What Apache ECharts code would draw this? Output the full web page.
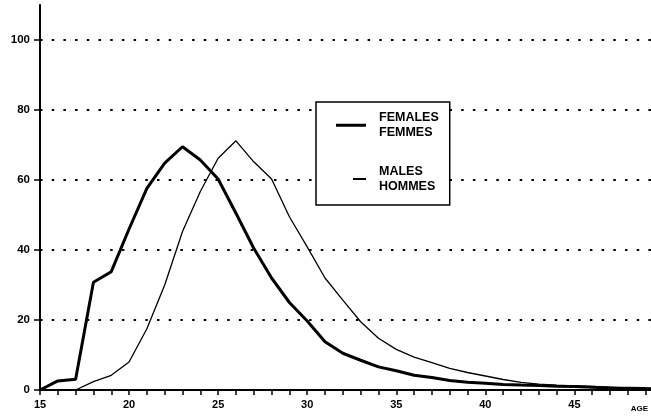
<!DOCTYPE html>
<html>
<head>
<meta charset="utf-8">
<script src="https://cdn.jsdelivr.net/npm/echarts@6/dist/echarts.min.js"></script>
<style>
html,body{margin:0;padding:0;background:#fff;}
#c{width:651px;height:420px;}
</style>
</head>
<body>
<div id="c"></div>
<script>
var ages = [15,16,17,18,19,20,21,22,23,24,25,26,27,28,29,30,31,32,33,34,35,36,37,38,39,40,41,42,43,44,45,46,47,48,49,50];
var females = [0,2.6,3.1,30.8,33.8,46,57.6,64.8,69.5,65.7,60.3,50.5,40.5,32,25,19.7,13.8,10.5,8.5,6.6,5.5,4.2,3.6,2.7,2.2,1.9,1.6,1.4,1.3,1.1,1.0,0.8,0.6,0.5,0.4,0.35];
var males = [null,null,0,2.4,4.2,8,17.5,30,45.3,56.7,66.2,71.2,65.2,60.3,49.5,40.9,32,25.7,19.5,14.8,11.6,9.4,7.8,6.2,5.0,4.0,3.0,2.2,1.7,1.4,1.2,1.0,0.8,0.6,0.5,0.45];
var yTicks = [0,20,40,60,80,100];
var gridValues = [20,40,60,80,100];
var femaleName = 'FEMALES\nFEMMES';
var maleName = 'MALES\nHOMMES';

function pairs(vals){
  return ages.map(function(a,i){ return [a, vals[i]]; });
}

var chart = echarts.init(document.getElementById('c'), null, {renderer:'canvas'});
var fontFam = '"Liberation Sans", Arial, sans-serif';
chart.setOption({
  animation:false,
  backgroundColor:'#fff',
  grid:{left:40, right:0, top:5, bottom:30},
  legend:{
    orient:'vertical',
    left:316, top:102,
    padding:[8,11,11,20],
    itemGap:24,
    itemWidth:30,
    itemHeight:4,
    backgroundColor:'#fff',
    borderColor:'#000',
    borderWidth:1.5,
    z:10,
    textStyle:{fontFamily:fontFam, fontSize:12.5, fontWeight:'bold', color:'#000', lineHeight:15, padding:[0,0,0,8]},
    data:[
      {name:femaleName, icon:'path://M0,0L0.01,0L0,0.01Z M0,0.5L30,0.5L30,3.5L0,3.5Z'},
      {name:maleName, icon:'path://M0,0L0.01,0L0,0.01Z M17,1.1L30,1.1L30,2.9L17,2.9Z M29.99,4L30,4L30,3.99Z'}
    ]
  },
  xAxis:{
    type:'value', min:15, max:49.3, interval:1,
    name:'AGE', nameLocation:'end', nameGap:-3,
    nameTextStyle:{align:'right', verticalAlign:'top', padding:[15,0,0,0], fontFamily:fontFam, fontSize:8, fontWeight:'bold', color:'#000'},
    axisLine:{lineStyle:{color:'#000', width:2}},
    axisTick:{length:5, lineStyle:{color:'#000', width:1.5}},
    axisLabel:{margin:9, showMaxLabel:false, fontFamily:fontFam, fontSize:11, fontWeight:'bold', color:'#000',
      formatter:function(v){ return (v % 5 === 0) ? String(v) : ''; }},
    splitLine:{show:false}
  },
  yAxis:{
    type:'value', min:0, max:110, interval:20,
    axisLine:{show:true, lineStyle:{color:'#000', width:2}},
    axisTick:{show:true, length:6, customValues:yTicks, lineStyle:{color:'#000', width:1.5}},
    axisLabel:{margin:10, customValues:yTicks, fontFamily:fontFam, fontSize:11.5, fontWeight:'bold', color:'#000',
      formatter:function(v){ return v > 100 ? '' : String(v); }},
    splitLine:{show:false}
  },
  series:[
    {
      name:femaleName, type:'line', data:pairs(females), showSymbol:false, symbol:'none',
      color:'#000', lineStyle:{color:'#000', width:3}, z:3
    },
    {
      name:maleName, type:'line', data:pairs(males), showSymbol:false, symbol:'none',
      color:'#000', lineStyle:{color:'#000', width:1.3}, z:4,
      markLine:{
        silent:true, symbol:'none', label:{show:false},
        lineStyle:{color:'#000', type:[2.5,9.2], width:2, cap:'butt'},
        data: gridValues.map(function(v){ return {yAxis:v}; })
      }
    }
  ]
});
</script>
</body>
</html>
